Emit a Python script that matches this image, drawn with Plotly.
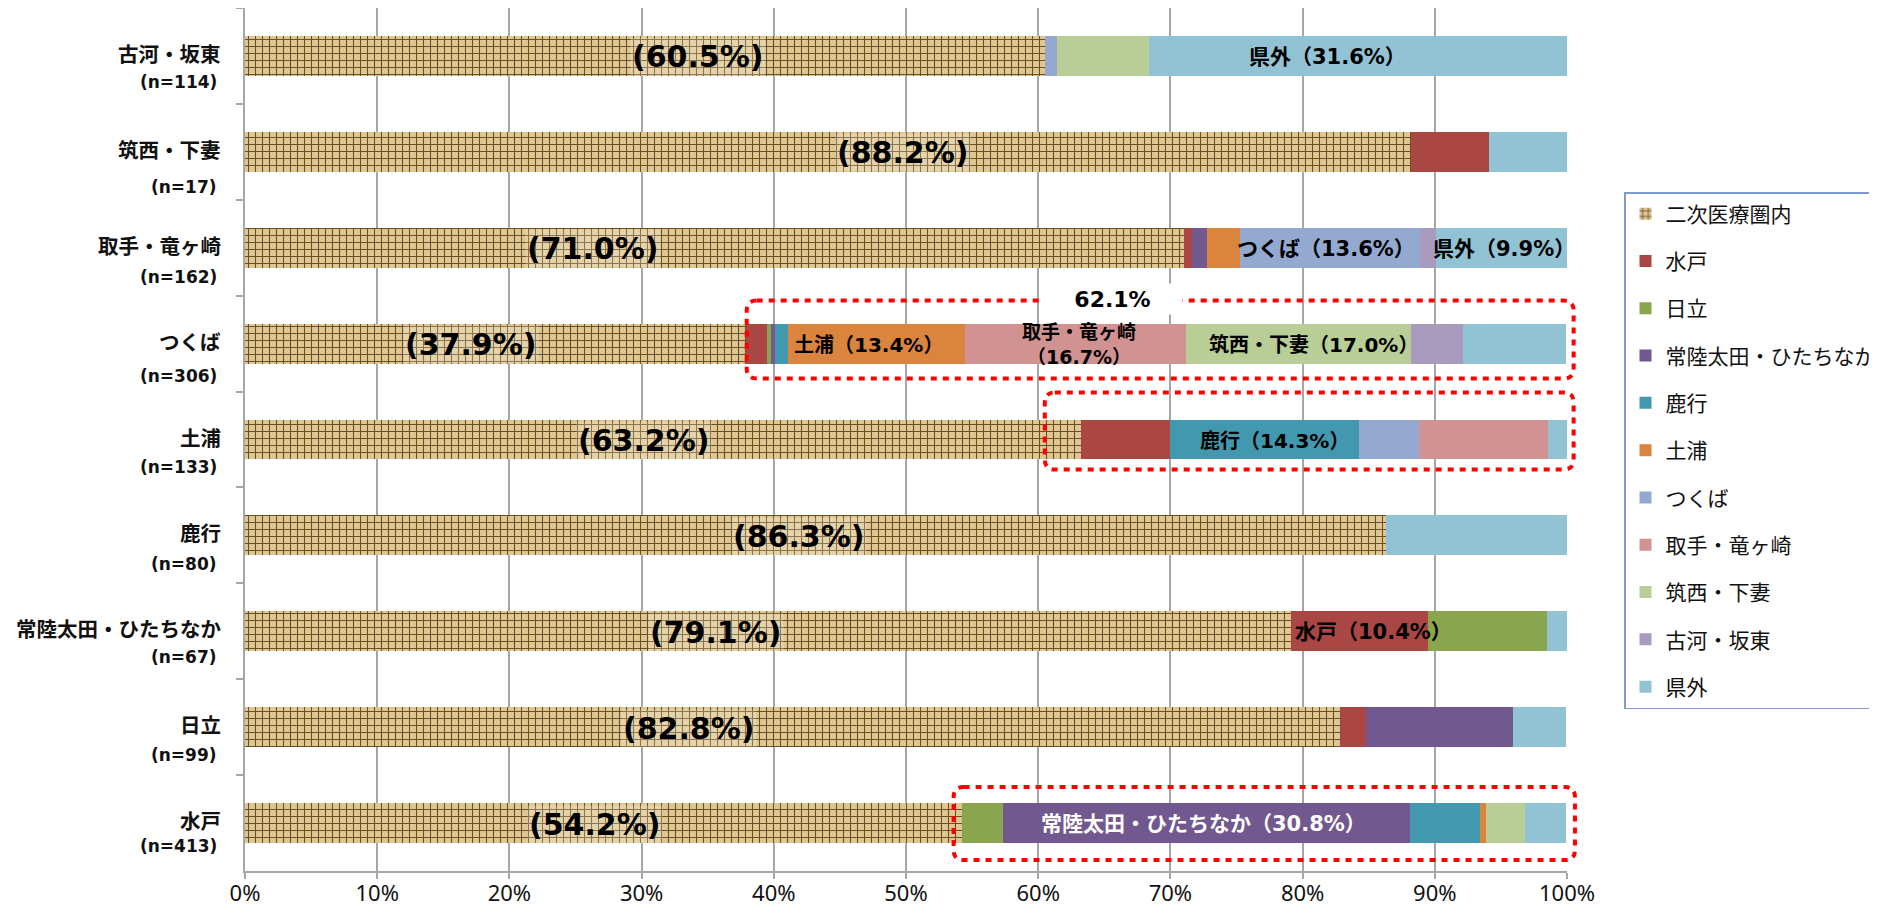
import plotly.graph_objects as go

# 二次医療圏別 受診先の構成比（%）
areas = ["古河・坂東", "筑西・下妻", "取手・竜ヶ崎", "つくば", "土浦",
         "鹿行", "常陸太田・ひたちなか", "日立", "水戸"]
n_counts = [114, 17, 162, 306, 133, 80, 67, 99, 413]

series_names = ["二次医療圏内", "水戸", "日立", "常陸太田・ひたちなか", "鹿行", "土浦",
                "つくば", "取手・竜ヶ崎", "筑西・下妻", "古河・坂東", "県外"]

v_inside = [60.5, 88.2, 71.0, 37.9, 63.2, 86.3, 79.1, 82.8, 54.2]
v_mito = [0, 5.9, 0.6, 1.6, 6.8, 0, 10.4, 2.0, 0]
v_hitachi = [0, 0, 0, 0.3, 0, 0, 9.0, 0, 3.1]
v_hitachiota = [0, 0, 1.2, 0.3, 0, 0, 0, 11.1, 30.8]
v_rokko = [0, 0, 0, 1.0, 14.3, 0, 0, 0, 5.3]
v_tsuchiura = [0, 0, 2.5, 13.4, 0, 0, 0, 0, 0.5]
v_tsukuba = [0.9, 0, 13.6, 0, 4.5, 0, 0, 0, 0]
v_toride = [0, 0, 0, 16.7, 9.8, 0, 0, 0, 0]
v_chikusei = [7.0, 0, 0, 17.0, 0, 0, 0, 0, 2.9]
v_koga = [0, 0, 1.2, 3.9, 0, 0, 0, 0, 0]
v_kengai = [31.6, 5.9, 9.9, 7.8, 1.5, 13.7, 1.5, 4.0, 3.1]

values = [v_inside, v_mito, v_hitachi, v_hitachiota, v_rokko, v_tsuchiura,
          v_tsukuba, v_toride, v_chikusei, v_koga, v_kengai]

tick_vals = [0, 10, 20, 30, 40, 50, 60, 70, 80, 90, 100]
tick_text = ["0%", "10%", "20%", "30%", "40%", "50%", "60%", "70%", "80%", "90%", "100%"]

colors = [None, "#AA4643", "#89A54E", "#71588F", "#4198AF", "#DB843D",
          "#93A9CF", "#D19392", "#B9CD96", "#A99BBD", "#92C3D4"]

CJK = "Noto Sans CJK JP"
MIX = "DejaVu Sans, Noto Sans CJK JP"

# the page body has an 8px margin, so the figure is a bit smaller than the window
OFF = 8
W, H = 1869, 900
ML, MR, MT, MB = 237, 310, 0, 37
PW, PH = W - ML - MR, H - MT - MB

fig = go.Figure()
for i, (name, vals) in enumerate(zip(series_names, values)):
    if i == 0:
        marker = dict(color="#C9AE78",
                      pattern=dict(shape="+", fgcolor="#6B4F22", bgcolor="#DEC792",
                                   size=7, solidity=0.28, fillmode="replace"),
                      line=dict(width=0))
    else:
        marker = dict(color=colors[i], line=dict(width=0))
    fig.add_trace(go.Bar(x=vals, y=areas, name=name, orientation="h",
                         marker=marker, legendgroup=name,
                         hovertemplate="%{y}: %{x:.1f}%<extra>" + name + "</extra>"))

# category labels (name + n)
n_shift = [-26, -35, -29, -32, -27, -29, -26, -28, -23]
ann = []
for a, n, s in zip(areas, n_counts, n_shift):
    ann.append(dict(x=0, xref="paper", y=a, yref="y", xanchor="right", xshift=-22, yshift=3,
                    text="<b>%s</b>" % a, showarrow=False,
                    font=dict(family=CJK, size=20.5, color="#111111")))
    ann.append(dict(x=0, xref="paper", y=a, yref="y", xanchor="right", xshift=-26, yshift=s,
                    text="<b>(n=%d)</b>" % n, showarrow=False,
                    font=dict(family=MIX, size=17, color="#111111")))

# in-area share labels
inside_x = [34.3, 49.8, 26.3, 17.1, 30.2, 41.9, 35.6, 33.6, 26.5]
for a, v, xx in zip(areas, v_inside, inside_x):
    ann.append(dict(x=xx, y=a, text="<b>(%.1f%%)</b>" % v, showarrow=False, yshift=-1,
                    bgcolor="rgba(255,255,255,0.22)",
                    font=dict(family="DejaVu Sans", size=30, color="#000000")))

# segment labels
seg_labels = [
    ("古河・坂東", 81.9, "県外（31.6%）", 21, "#000000"),
    ("取手・竜ヶ崎", 81.8, "つくば（13.6%）", 21, "#000000"),
    ("取手・竜ヶ崎", 95.2, "県外（9.9%）", 21, "#000000"),
    ("つくば", 47.2, "土浦（13.4%）", 20, "#000000"),
    ("つくば", 63.1, "取手・竜ヶ崎<br>（16.7%）", 19, "#000000"),
    ("つくば", 80.8, "筑西・下妻（17.0%）", 20, "#000000"),
    ("土浦", 77.9, "鹿行（14.3%）", 20, "#000000"),
    ("常陸太田・ひたちなか", 85.35, "水戸（10.4%）", 21, "#000000"),
    ("水戸", 72.5, "常陸太田・ひたちなか（30.8%）", 21, "#FFFFFF"),
]
for a, xx, t, fs, c in seg_labels:
    ann.append(dict(x=xx, y=a, text="<b>%s</b>" % t, showarrow=False, yshift=-1,
                    font=dict(family=MIX, size=fs, color=c)))


def py(row, off):
    return 1 - (row + 0.5) / 9 + off / PH


def rrect(x0, x1, y0, y1, r=10):
    rx, ry = r / PW, r / PH
    return ("M %f,%f L %f,%f Q %f,%f %f,%f L %f,%f Q %f,%f %f,%f L %f,%f Q %f,%f %f,%f "
            "L %f,%f Q %f,%f %f,%f Z") % (
        x0 + rx, y1, x1 - rx, y1, x1, y1, x1, y1 - ry, x1, y0 + ry, x1, y0, x1 - rx, y0,
        x0 + rx, y0, x0, y0, x0, y0 + ry, x0, y1 - ry, x0, y1, x0 + rx, y1)


boxes = [(3, 37.95, 100.5, 43, -35), (4, 60.5, 100.5, 47, -30), (8, 53.6, 100.6, 36, -37)]
shapes = []
for row, xl, xr, top, bot in boxes:
    shapes.append(dict(type="path", xref="paper", yref="paper", layer="above",
                       path=rrect(xl / 100, xr / 100, py(row, bot), py(row, top)),
                       line=dict(color="#FF0000", width=4, dash="6px,6px")))

ann.append(dict(x=65.6, y=py(3, 45), yref="paper", text="<b>62.1%</b>", showarrow=False,
                bgcolor="#FFFFFF", width=137, height=28,
                font=dict(family="DejaVu Sans", size=22, color="#000000")))

fig.update_layout(
    barmode="stack",
    bargap=0.583,
    width=W, height=H,
    margin=dict(l=ML, r=MR, t=MT, b=MB, pad=0, autoexpand=False),
    plot_bgcolor="#FFFFFF",
    paper_bgcolor="#FFFFFF",
    showlegend=True,
    legend=dict(x=(1624 - OFF - ML) / PW, xanchor="left",
                y=(PH - (192 - OFF - MT)) / PH, yanchor="top",
                traceorder="grouped", tracegroupgap=17,
                bordercolor="#7D9BCB", borderwidth=1.5, bgcolor="#FFFFFF",
                font=dict(family=CJK, size=21, color="#111111")),
    xaxis=dict(range=[0, 100], tickvals=tick_vals, ticktext=tick_text,
               showgrid=True, gridcolor="#A6A6A6", gridwidth=1.5,
               showline=True, linecolor="#A6A6A6", linewidth=1.5,
               ticks="outside", ticklen=6, tickcolor="#A6A6A6", tickwidth=1.5,
               zeroline=False, ticklabelstandoff=-4,
               tickfont=dict(family="Noto Sans", size=22, color="#111111")),
    yaxis=dict(type="category", categoryarray=areas, categoryorder="array",
               range=[8.5, -0.5], showticklabels=False, showgrid=False,
               showline=True, linecolor="#A6A6A6", linewidth=1.5,
               ticks="outside", tickson="boundaries", ticklen=7,
               tickcolor="#A6A6A6", tickwidth=1.5, zeroline=False),
    annotations=ann,
    shapes=shapes,
)

fig.write_html("out.html")
